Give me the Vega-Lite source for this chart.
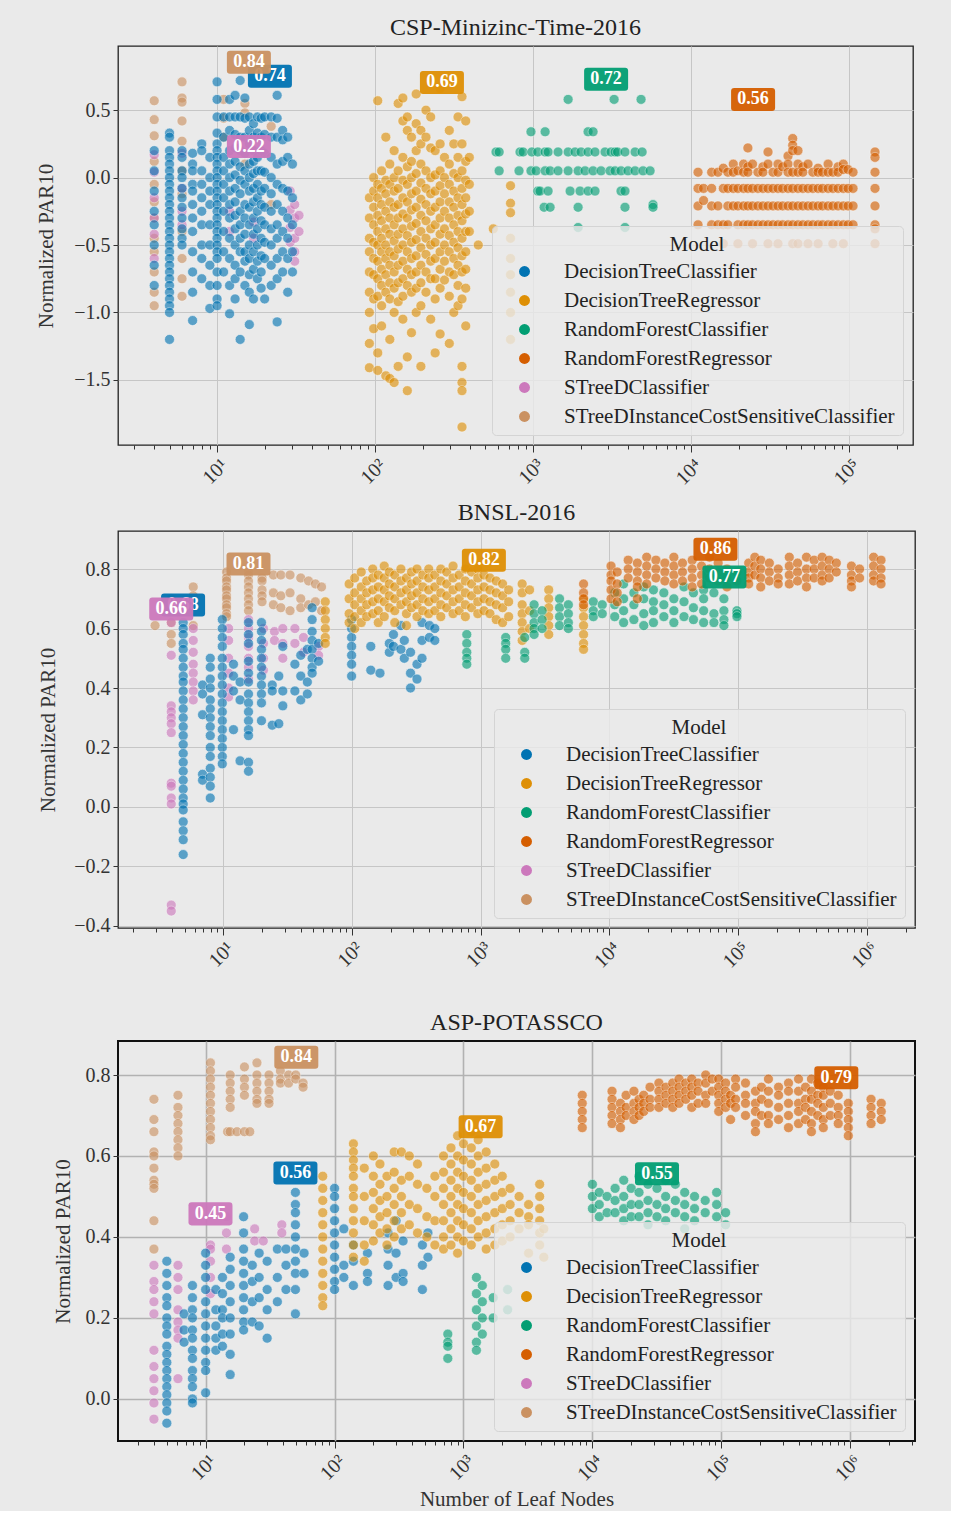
{
"$schema": "https://vega.github.io/schema/vega-lite/v6.json",
"background": "#eaeaea",
"padding": {"left": 35, "top": 15, "right": 24, "bottom": 0},
"spacing": 11,
"resolve": {"scale": {"color": "independent", "fill": "independent"}, "legend": {"color": "independent", "fill": "independent"}},
"config": {
 "font": "Liberation Serif",
 "view": {"fill": "#eaeaea", "stroke": "#222", "strokeWidth": 1.3},
 "title": {"fontSize": 24, "fontWeight": "normal", "color": "#222", "offset": 6, "font": "Liberation Serif"},
 "axis": {"labelFont": "Liberation Serif", "labelFontSize": 20, "labelColor": "#333", "titleFont": "Liberation Serif", "titleFontSize": 21, "titleFontWeight": "normal", "titleColor": "#333", "domain": false, "tickColor": "#333", "gridColor": "#c6c6c6", "gridWidth": 1},
 "axisY": {"tickSize": 5, "labelPadding": 3},
 "axisX": {"labelAngle": -45, "labelAlign": "right", "labelBaseline": "top", "labelOverlap": false, "labelPadding": 3},
 "legend": {"orient": "bottom-right", "offset": 10, "titleFont": "Liberation Serif", "titleFontSize": 21, "titleFontWeight": "normal", "titleColor": "#222", "titleAnchor": "middle", "titlePadding": 6, "labelFont": "Liberation Serif", "labelFontSize": 21, "labelColor": "#222", "labelLimit": 600, "symbolType": "circle", "symbolSize": 120, "symbolStrokeWidth": 0, "symbolOpacity": 1, "symbolOffset": 14, "labelOffset": 29, "rowPadding": 7, "padding": 8, "fillColor": "rgba(234,234,234,0.8)", "strokeColor": "#d4d4d4", "cornerRadius": 4}
},
"datasets": {
 "p1": [
  {"m":"f","x":4,"y":[0.57,0.43,0.31,0.12,-0.05,-0.18,-0.3,-0.45,-0.55,-0.7,-0.85,-0.95]},
  {"m":"f","x":6,"y":[0.71,0.59,0.56,0.42,0.27,0.05,-0.12,-0.4,-0.6,-0.75,-0.88]},
  {"m":"f","x":11,"y":[0.58,0.44,0.3]},
  {"m":"f","x":15,"y":[0.55,0.48,0.1]},
  {"m":"f","x":22,"y":[0.38,-0.2]},
  {"m":"e","x":4,"y":[0.17,0.04,-0.15,-0.3,-0.42,-0.6]},
  {"m":"e","x":6,"y":[0.18,-0.08,-0.25,-0.35]},
  {"m":"e","x":12,"y":[-0.25,-0.4]},
  {"m":"e","x":17,"y":[-0.33,-0.45]},
  {"m":"e","x":29,"y":[-0.1,-0.24,-0.37,-0.48]},
  {"m":"e","x":31,"y":[-0.2,-0.3,-0.45,-0.55,-0.62]},
  {"m":"e","x":33,"y":[-0.28,-0.4]},
  {"m":"a","x":4,"y":[0.2,0.05,-0.1,-0.25,-0.35,-0.5,-0.65,-0.8]},
  {"m":"a","x":5,"y":[0.33,0.3,0.2,0.15,0.1,0.05,0.0,-0.05,-0.1,-0.15,-0.2,-0.25,-0.3,-0.35,-0.4,-0.45,-0.5,-0.55,-0.6,-0.65,-0.7,-0.75,-0.8,-0.85,-0.9,-0.95,-1.0,-1.2]},
  {"m":"a","x":6,"y":[0.2,0.15,0.05,0.0,-0.08,-0.15,-0.22,-0.3,-0.38,-0.45,-0.5]},
  {"m":"a","x":7,"y":[0.18,0.1,0.05,-0.05,-0.1,-0.2,-0.3,-0.4,-0.55,-0.7,-0.85,-1.06]},
  {"m":"a","x":8,"y":[0.25,0.2,0.05,-0.05,-0.15,-0.25,-0.35,-0.5,-0.6,-0.75]},
  {"m":"a","x":9,"y":[0.15,0.0,-0.1,-0.2,-0.35,-0.5,-0.65,-0.8,-0.97]},
  {"m":"a","x":10,"y":[0.71,0.58,0.45,0.33,0.25,0.2,0.15,0.1,0.05,0.0,-0.05,-0.1,-0.15,-0.2,-0.25,-0.3,-0.35,-0.4,-0.45,-0.5,-0.55,-0.6,-0.7,-0.8,-0.9,-0.95]},
  {"m":"a","x":11,"y":[0.45,0.3,0.15,0.05,-0.05,-0.15,-0.25,-0.4,-0.55,-0.7]},
  {"m":"a","x":12,"y":[0.58,0.45,0.35,0.2,0.1,0.0,-0.1,-0.2,-0.3,-0.45,-0.6,-0.8,-1.01]},
  {"m":"a","x":13,"y":[0.61,0.45,0.32,0.22,0.12,0.02,-0.08,-0.18,-0.28,-0.38,-0.5,-0.65,-0.75,-0.9]},
  {"m":"a","x":14,"y":[0.72,0.45,0.3,0.2,0.08,-0.02,-0.12,-0.25,-0.35,-0.45,-0.55,-0.7,-1.2]},
  {"m":"a","x":15,"y":[0.59,0.44,0.3,0.18,0.05,-0.05,-0.2,-0.3,-0.42,-0.55,-0.62,-0.8]},
  {"m":"a","x":16,"y":[0.45,0.35,0.25,0.1,0.0,-0.1,-0.22,-0.35,-0.5,-0.6,-0.72,-0.85,-1.09]},
  {"m":"a","x":17,"y":[0.4,0.3,0.2,0.12,0.03,-0.08,-0.18,-0.3,-0.42,-0.55,-0.68,-0.9]},
  {"m":"a","x":18,"y":[0.45,0.33,0.15,0.05,-0.05,-0.15,-0.25,-0.38,-0.5,-0.62,-0.75]},
  {"m":"a","x":19,"y":[0.44,0.3,0.2,0.05,-0.1,-0.2,-0.32,-0.45,-0.58,-0.7,-0.82]},
  {"m":"a","x":20,"y":[0.45,0.32,0.18,0.04,-0.08,-0.22,-0.35,-0.48,-0.6,-0.9]},
  {"m":"a","x":22,"y":[0.45,0.3,0.15,0.0,-0.12,-0.25,-0.38,-0.5,-0.65,-0.8]},
  {"m":"a","x":24,"y":[0.61,0.44,0.3,0.1,-0.05,-0.2,-0.35,-0.45,-0.6,-0.75,-1.07]},
  {"m":"a","x":26,"y":[0.35,0.28,0.12,-0.08,-0.25,-0.4,-0.55,-0.7]},
  {"m":"a","x":28,"y":[0.3,0.15,-0.1,-0.3,-0.45,-0.6,-0.85]},
  {"m":"a","x":30,"y":[0.1,-0.15,-0.35,-0.55,-0.7]},
  {"m":"b","x":92,"y":[-0.15,-0.3,-0.45,-0.55,-0.7,-0.85,-1.0,-1.23,-1.41]},
  {"m":"b","x":98,"y":[0.0,-0.1,-0.22,-0.35,-0.48,-0.6,-0.72,-0.9,-1.12]},
  {"m":"b","x":104,"y":[0.57,-0.05,-0.15,-0.28,-0.4,-0.5,-0.62,-0.75,-0.88,-1.3,-1.43]},
  {"m":"b","x":110,"y":[0.05,-0.08,-0.2,-0.32,-0.45,-0.55,-0.68,-0.8,-0.95,-1.1]},
  {"m":"b","x":117,"y":[0.3,-0.02,-0.12,-0.25,-0.38,-0.5,-0.6,-0.72,-0.85,-1.47]},
  {"m":"b","x":124,"y":[0.1,-0.05,-0.18,-0.3,-0.42,-0.55,-0.65,-0.78,-0.9,-1.2,-1.49]},
  {"m":"b","x":132,"y":[0.2,0.0,-0.1,-0.22,-0.35,-0.47,-0.58,-0.7,-0.82,-1.0,-1.52]},
  {"m":"b","x":140,"y":[0.55,0.05,-0.08,-0.2,-0.3,-0.42,-0.53,-0.65,-0.78,-0.92,-1.4]},
  {"m":"b","x":150,"y":[0.59,0.42,0.15,-0.02,-0.15,-0.27,-0.38,-0.5,-0.62,-0.75,-0.88,-1.05]},
  {"m":"b","x":160,"y":[0.45,0.35,0.08,-0.05,-0.18,-0.3,-0.43,-0.55,-0.68,-0.8,-1.33,-1.58]},
  {"m":"b","x":170,"y":[0.3,0.12,0.0,-0.12,-0.24,-0.36,-0.48,-0.6,-0.72,-0.85,-1.15]},
  {"m":"b","x":182,"y":[0.62,0.4,0.2,0.03,-0.1,-0.22,-0.34,-0.46,-0.58,-0.7,-0.82,-1.0]},
  {"m":"b","x":195,"y":[0.35,0.25,0.1,-0.04,-0.16,-0.28,-0.4,-0.52,-0.65,-0.78,-0.95,-1.4]},
  {"m":"b","x":210,"y":[0.5,0.3,0.05,-0.08,-0.2,-0.32,-0.45,-0.57,-0.7,-0.85]},
  {"m":"b","x":225,"y":[0.45,0.22,0.0,-0.12,-0.25,-0.38,-0.5,-0.62,-0.75,-1.05]},
  {"m":"b","x":240,"y":[0.2,0.02,-0.1,-0.22,-0.35,-0.48,-0.6,-0.75,-0.9,-1.3]},
  {"m":"b","x":258,"y":[0.66,0.25,0.05,-0.06,-0.18,-0.3,-0.42,-0.55,-0.68,-0.82,-1.16]},
  {"m":"b","x":275,"y":[0.15,0.0,-0.12,-0.25,-0.38,-0.5,-0.62,-0.76]},
  {"m":"b","x":295,"y":[0.35,0.1,-0.05,-0.18,-0.3,-0.43,-0.55,-0.7,-0.88,-1.23]},
  {"m":"b","x":315,"y":[0.25,0.03,-0.1,-0.22,-0.35,-0.48,-0.6,-0.72,-1.0]},
  {"m":"b","x":335,"y":[0.45,0.15,0.0,-0.15,-0.28,-0.4,-0.52,-0.65,-0.8,-0.95]},
  {"m":"b","x":355,"y":[0.6,0.25,0.05,-0.08,-0.2,-0.32,-0.45,-0.58,-0.7,-0.9,-1.4,-1.52,-1.58,-1.85]},
  {"m":"b","x":375,"y":[0.42,0.12,-0.02,-0.15,-0.27,-0.4,-0.55,-0.68,-0.82,-1.1]},
  {"m":"b","x":395,"y":[0.15,-0.05,-0.25,-0.4]},
  {"m":"b","x":450,"y":[-0.5]},
  {"m":"b","x":560,"y":[-0.38]},
  {"m":"b","x":720,"y":[-0.06,-0.19,-0.26,-0.45,-0.6,-0.72,-0.85,-1.0,-1.2]},
  {"m":"c","x":583,"y":[0.19]},
  {"m":"c","x":610,"y":[0.19,0.05]},
  {"m":"c","x":815,"y":[0.05]},
  {"m":"c","x":827,"y":[0.19]},
  {"m":"c","x":865,"y":[0.19]},
  {"m":"c","x":970,"y":[0.34,0.05]},
  {"m":"c","x":983,"y":[0.19]},
  {"m":"c","x":1045,"y":[0.05]},
  {"m":"c","x":1072,"y":[0.19,-0.1]},
  {"m":"c","x":1107,"y":[-0.1]},
  {"m":"c","x":1175,"y":[-0.22]},
  {"m":"c","x":1192,"y":[0.34,0.19,0.05]},
  {"m":"c","x":1245,"y":[0.19,-0.1]},
  {"m":"c","x":1282,"y":[0.05,-0.22]},
  {"m":"c","x":1440,"y":[0.19,0.05]},
  {"m":"c","x":1667,"y":[0.58,0.19,0.05]},
  {"m":"c","x":1716,"y":[-0.1]},
  {"m":"c","x":1845,"y":[0.19]},
  {"m":"c","x":1928,"y":[0.05,-0.22,-0.37]},
  {"m":"c","x":1983,"y":[-0.1]},
  {"m":"c","x":2012,"y":[0.19]},
  {"m":"c","x":2134,"y":[0.05]},
  {"m":"c","x":2229,"y":[0.34,0.19,-0.1]},
  {"m":"c","x":2398,"y":[0.34,0.05]},
  {"m":"c","x":2467,"y":[0.19,-0.1]},
  {"m":"c","x":2693,"y":[0.05]},
  {"m":"c","x":2855,"y":[0.19]},
  {"m":"c","x":3070,"y":[0.05]},
  {"m":"c","x":3117,"y":[0.19]},
  {"m":"c","x":3258,"y":[0.58]},
  {"m":"c","x":3305,"y":[0.19,0.05]},
  {"m":"c","x":3426,"y":[0.19]},
  {"m":"c","x":3603,"y":[0.05,-0.1]},
  {"m":"c","x":3818,"y":[0.19,-0.1,-0.22,-0.37]},
  {"m":"c","x":3990,"y":[0.05]},
  {"m":"c","x":4422,"y":[0.19,0.05]},
  {"m":"c","x":4826,"y":[0.58]},
  {"m":"c","x":4900,"y":[0.19]},
  {"m":"c","x":4966,"y":[0.05]},
  {"m":"c","x":5505,"y":[0.05]},
  {"m":"c","x":5745,"y":[-0.2,-0.22]},
  {"m":"d","x":11070,"y":[0.04,-0.08,-0.21,-0.35]},
  {"m":"d","x":12000,"y":[-0.08,-0.17]},
  {"m":"d","x":13500,"y":[0.04,-0.08,-0.21,-0.35]},
  {"m":"d","x":14800,"y":[0.04,-0.21,-0.35]},
  {"m":"d","x":16000,"y":[0.07,-0.08,-0.35,-0.49]},
  {"m":"d","x":17100,"y":[0.04,-0.08,-0.21,-0.35]},
  {"m":"d","x":18500,"y":[0.1,0.04,-0.08,-0.21]},
  {"m":"d","x":19800,"y":[0.05,-0.08,-0.21,-0.35,-0.49]},
  {"m":"d","x":21500,"y":[0.1,0.04,-0.08,-0.21,-0.35]},
  {"m":"d","x":22900,"y":[0.22,0.08,0.04,-0.08,-0.21,-0.35]},
  {"m":"d","x":24500,"y":[0.1,-0.08,-0.21,-0.35,-0.49]},
  {"m":"d","x":26500,"y":[0.04,-0.08,-0.21,-0.35]},
  {"m":"d","x":28500,"y":[0.08,0.04,-0.08,-0.21,-0.35]},
  {"m":"d","x":30700,"y":[0.19,0.1,-0.08,-0.21,-0.35,-0.49]},
  {"m":"d","x":33000,"y":[0.04,-0.08,-0.21,-0.35]},
  {"m":"d","x":35500,"y":[0.1,0.04,-0.08,-0.21,-0.35,-0.49]},
  {"m":"d","x":38000,"y":[0.08,-0.08,-0.21,-0.35]},
  {"m":"d","x":41100,"y":[0.16,0.1,0.04,-0.08,-0.21,-0.35]},
  {"m":"d","x":44000,"y":[0.29,0.24,0.2,0.04,-0.08,-0.21,-0.35,-0.49]},
  {"m":"d","x":47500,"y":[0.2,0.1,0.04,-0.08,-0.21,-0.35,-0.49]},
  {"m":"d","x":51000,"y":[0.08,0.04,-0.08,-0.21,-0.35]},
  {"m":"d","x":55000,"y":[0.1,-0.08,-0.21,-0.35,-0.49]},
  {"m":"d","x":59000,"y":[0.04,-0.08,-0.21,-0.35]},
  {"m":"d","x":63700,"y":[0.07,0.04,-0.08,-0.21,-0.35,-0.49]},
  {"m":"d","x":68000,"y":[0.04,-0.08,-0.21,-0.35]},
  {"m":"d","x":73700,"y":[0.1,0.04,-0.08,-0.21,-0.35]},
  {"m":"d","x":79000,"y":[0.04,-0.08,-0.21,-0.35,-0.49]},
  {"m":"d","x":85200,"y":[0.08,0.04,-0.08,-0.21,-0.35]},
  {"m":"d","x":92000,"y":[0.1,0.06,-0.08,-0.21,-0.35,-0.49]},
  {"m":"d","x":98600,"y":[0.06,-0.08,-0.21,-0.35]},
  {"m":"d","x":106000,"y":[0.04,-0.08,-0.21,-0.35]},
  {"m":"d","x":146000,"y":[0.19,0.15,0.04,-0.08,-0.21,-0.35,-0.38,-0.49]}
 ],
 "l1": [
  {"m":"a","x":21.6,"y":0.751,"t":"0.74"},
  {"m":"f","x":15.9,"y":0.855,"t":"0.84"},
  {"m":"e","x":15.9,"y":0.23,"t":"0.22"},
  {"m":"b","x":265,"y":0.706,"t":"0.69"},
  {"m":"c","x":2900,"y":0.729,"t":"0.72"},
  {"m":"d","x":24700,"y":0.58,"t":"0.56"}
 ],
 "p2": [
  {"m":"f","x":2.95,"y":[0.61]},
  {"m":"f","x":3.94,"y":[0.7,0.66,0.62,0.58,0.55]},
  {"m":"f","x":5.84,"y":[0.74,0.71,0.68,0.61]},
  {"m":"f","x":10.6,"y":[0.79,0.77,0.76,0.74,0.73,0.71,0.7,0.68,0.67,0.65,0.64]},
  {"m":"f","x":15.7,"y":[0.79,0.78,0.76,0.74,0.72,0.7,0.68,0.66]},
  {"m":"f","x":20,"y":[0.77,0.76,0.73,0.71,0.69]},
  {"m":"f","x":24.5,"y":[0.78,0.72,0.68]},
  {"m":"f","x":28,"y":[0.78,0.71,0.67]},
  {"m":"f","x":33,"y":[0.78,0.72,0.66]},
  {"m":"f","x":40,"y":[0.77,0.7,0.67]},
  {"m":"f","x":46,"y":[0.76,0.68]},
  {"m":"f","x":52,"y":[0.75,0.69]},
  {"m":"f","x":58,"y":[0.74,0.66]},
  {"m":"e","x":3.94,"y":[0.62,0.51,0.34,0.32,0.3,0.28,0.25,0.08,0.07,0.03,0.01,-0.33,-0.35]},
  {"m":"e","x":5.84,"y":[0.6,0.56,0.52,0.48,0.45,0.42,0.39,0.36]},
  {"m":"e","x":11,"y":[0.6,0.56,0.5,0.45,0.4,0.37]},
  {"m":"e","x":15.7,"y":[0.63,0.6,0.57,0.54,0.5,0.47,0.43]},
  {"m":"e","x":20.5,"y":[0.6,0.55,0.5,0.46]},
  {"m":"e","x":25,"y":[0.59,0.56]},
  {"m":"e","x":29,"y":[0.6,0.55,0.5]},
  {"m":"e","x":36,"y":[0.6,0.55]},
  {"m":"e","x":42,"y":[0.57,0.52]},
  {"m":"e","x":55,"y":[0.54,0.51]},
  {"m":"a","x":4.88,"y":[0.62,0.6,0.58,0.55,0.53,0.5,0.47,0.44,0.42,0.39,0.36,0.33,0.3,0.27,0.24,0.21,0.18,0.15,0.12,0.09,0.06,0.03,0.01,-0.01,-0.05,-0.08,-0.11,-0.16]},
  {"m":"a","x":6.9,"y":[0.41,0.38,0.31,0.11,0.09]},
  {"m":"a","x":7.92,"y":[0.5,0.47,0.43,0.4,0.36,0.33,0.3,0.27,0.24,0.2,0.17,0.13,0.1,0.07,0.03]},
  {"m":"a","x":9.82,"y":[0.63,0.6,0.57,0.54,0.5,0.47,0.44,0.41,0.38,0.35,0.32,0.29,0.26,0.23,0.2,0.17,0.145]},
  {"m":"a","x":12,"y":[0.48,0.44,0.39,0.26]},
  {"m":"a","x":13.5,"y":[0.42,0.36,0.155]},
  {"m":"a","x":15.7,"y":[0.62,0.58,0.55,0.49,0.45,0.42,0.38,0.35,0.32,0.29,0.26,0.24,0.15,0.12]},
  {"m":"a","x":19.8,"y":[0.62,0.59,0.56,0.53,0.5,0.47,0.44,0.41,0.38,0.35,0.29]},
  {"m":"a","x":24,"y":[0.41,0.39,0.275]},
  {"m":"a","x":27,"y":[0.44,0.28]},
  {"m":"a","x":29,"y":[0.54,0.39,0.34]},
  {"m":"a","x":36,"y":[0.39,0.48]},
  {"m":"a","x":40,"y":[0.36,0.51,0.44]},
  {"m":"a","x":45,"y":[0.53,0.38,0.42]},
  {"m":"a","x":49,"y":[0.67,0.63,0.59,0.56,0.53,0.5,0.47,0.45]},
  {"m":"a","x":55,"y":[0.49,0.55]},
  {"m":"a","x":99.3,"y":[0.63,0.6,0.57,0.54,0.51,0.48,0.44]},
  {"m":"a","x":140,"y":[0.46,0.54]},
  {"m":"a","x":165,"y":[0.45]},
  {"m":"a","x":195,"y":[0.52,0.55]},
  {"m":"a","x":210,"y":[0.54,0.58]},
  {"m":"a","x":240,"y":[0.61,0.53]},
  {"m":"a","x":255,"y":[0.5,0.56]},
  {"m":"a","x":285,"y":[0.45,0.4,0.52]},
  {"m":"a","x":320,"y":[0.48,0.43]},
  {"m":"a","x":350,"y":[0.56,0.5,0.62]},
  {"m":"a","x":400,"y":[0.61,0.57]},
  {"m":"a","x":440,"y":[0.56,0.6]},
  {"m":"b","x":62,"y":[0.69,0.66,0.63,0.6,0.57,0.55]},
  {"m":"b","x":95,"y":[0.75,0.7,0.65,0.62]},
  {"m":"b","x":105,"y":[0.77,0.72,0.68,0.64,0.6]},
  {"m":"b","x":118,"y":[0.79,0.74,0.7,0.66,0.62]},
  {"m":"b","x":130,"y":[0.76,0.72,0.68,0.64]},
  {"m":"b","x":145,"y":[0.8,0.77,0.73,0.69,0.65]},
  {"m":"b","x":160,"y":[0.78,0.74,0.7,0.66,0.62]},
  {"m":"b","x":178,"y":[0.81,0.77,0.73,0.69,0.64]},
  {"m":"b","x":195,"y":[0.79,0.75,0.71,0.67]},
  {"m":"b","x":215,"y":[0.78,0.74,0.7,0.66,0.62]},
  {"m":"b","x":240,"y":[0.8,0.76,0.72,0.68]},
  {"m":"b","x":265,"y":[0.77,0.73,0.69,0.65,0.61]},
  {"m":"b","x":290,"y":[0.79,0.75,0.71,0.67]},
  {"m":"b","x":320,"y":[0.8,0.76,0.72,0.68,0.64]},
  {"m":"b","x":355,"y":[0.78,0.74,0.7,0.66]},
  {"m":"b","x":395,"y":[0.8,0.77,0.73,0.69,0.65]},
  {"m":"b","x":440,"y":[0.78,0.74,0.7,0.66]},
  {"m":"b","x":490,"y":[0.8,0.76,0.72,0.68,0.64]},
  {"m":"b","x":545,"y":[0.79,0.75,0.71,0.67]},
  {"m":"b","x":610,"y":[0.81,0.77,0.73,0.69,0.65]},
  {"m":"b","x":680,"y":[0.78,0.74,0.7,0.66]},
  {"m":"b","x":760,"y":[0.8,0.76,0.72,0.68,0.64]},
  {"m":"b","x":850,"y":[0.79,0.75,0.71,0.67]},
  {"m":"b","x":950,"y":[0.8,0.77,0.73,0.69,0.65]},
  {"m":"b","x":1060,"y":[0.78,0.74,0.7,0.66]},
  {"m":"b","x":1180,"y":[0.77,0.73,0.69,0.65]},
  {"m":"b","x":1320,"y":[0.76,0.72,0.68,0.63]},
  {"m":"b","x":1480,"y":[0.75,0.71,0.67,0.62]},
  {"m":"b","x":1650,"y":[0.73,0.69,0.64]},
  {"m":"b","x":2100,"y":[0.75,0.72,0.68,0.65,0.62,0.59,0.56]},
  {"m":"b","x":2400,"y":[0.73,0.66,0.6]},
  {"m":"b","x":3380,"y":[0.73,0.7,0.67,0.64,0.61,0.58]},
  {"m":"b","x":6300,"y":[0.7,0.67,0.64,0.61,0.58,0.55,0.53]},
  {"m":"c","x":780,"y":[0.58,0.55,0.52,0.5,0.48]},
  {"m":"c","x":1565,"y":[0.57,0.55,0.53,0.5]},
  {"m":"c","x":2200,"y":[0.57,0.52,0.5]},
  {"m":"c","x":2600,"y":[0.68,0.65,0.62,0.6,0.58]},
  {"m":"c","x":3000,"y":[0.66,0.63,0.6]},
  {"m":"c","x":4100,"y":[0.7,0.67,0.64,0.61]},
  {"m":"c","x":4800,"y":[0.68,0.65,0.62,0.6]},
  {"m":"c","x":7500,"y":[0.69,0.66,0.64]},
  {"m":"c","x":8800,"y":[0.68,0.65]},
  {"m":"c","x":11000,"y":[0.72,0.68,0.64]},
  {"m":"c","x":12900,"y":[0.75,0.7,0.66,0.62]},
  {"m":"c","x":15500,"y":[0.72,0.68,0.63]},
  {"m":"c","x":18500,"y":[0.74,0.7,0.65,0.61]},
  {"m":"c","x":22000,"y":[0.73,0.69,0.66,0.62]},
  {"m":"c","x":26500,"y":[0.72,0.68,0.64]},
  {"m":"c","x":31700,"y":[0.7,0.66,0.62]},
  {"m":"c","x":38000,"y":[0.74,0.69,0.64]},
  {"m":"c","x":45000,"y":[0.72,0.67,0.63]},
  {"m":"c","x":54000,"y":[0.73,0.7,0.66,0.62]},
  {"m":"c","x":64900,"y":[0.72,0.65,0.62]},
  {"m":"c","x":77600,"y":[0.77,0.7,0.66,0.63,0.61]},
  {"m":"c","x":98000,"y":[0.66,0.65,0.64]},
  {"m":"d","x":6300,"y":[0.75,0.72,0.7,0.68]},
  {"m":"d","x":10300,"y":[0.81,0.78,0.76,0.73,0.7]},
  {"m":"d","x":11500,"y":[0.79,0.75,0.72,0.69]},
  {"m":"d","x":14000,"y":[0.83,0.8,0.77]},
  {"m":"d","x":16500,"y":[0.82,0.79,0.76,0.74,0.7]},
  {"m":"d","x":19500,"y":[0.84,0.81,0.78,0.75]},
  {"m":"d","x":23000,"y":[0.83,0.8,0.77]},
  {"m":"d","x":27000,"y":[0.82,0.79,0.76]},
  {"m":"d","x":31700,"y":[0.84,0.81,0.78,0.75]},
  {"m":"d","x":37000,"y":[0.82,0.79,0.76]},
  {"m":"d","x":44000,"y":[0.83,0.8,0.77,0.74]},
  {"m":"d","x":52000,"y":[0.81,0.78,0.75]},
  {"m":"d","x":60000,"y":[0.84,0.8,0.77]},
  {"m":"d","x":70000,"y":[0.82,0.79,0.76]},
  {"m":"d","x":82000,"y":[0.8,0.77,0.74]},
  {"m":"d","x":98000,"y":[0.79,0.76]},
  {"m":"d","x":121000,"y":[0.82,0.79,0.77,0.75]},
  {"m":"d","x":135000,"y":[0.84,0.81,0.78]},
  {"m":"d","x":150000,"y":[0.83,0.8,0.77,0.74]},
  {"m":"d","x":175000,"y":[0.82,0.79,0.76]},
  {"m":"d","x":205000,"y":[0.8,0.77,0.75]},
  {"m":"d","x":250000,"y":[0.84,0.81,0.78,0.75]},
  {"m":"d","x":290000,"y":[0.82,0.79,0.76]},
  {"m":"d","x":340000,"y":[0.84,0.8,0.77,0.74]},
  {"m":"d","x":390000,"y":[0.83,0.8,0.77]},
  {"m":"d","x":450000,"y":[0.84,0.81,0.78,0.76]},
  {"m":"d","x":510000,"y":[0.83,0.8,0.77]},
  {"m":"d","x":580000,"y":[0.82,0.79]},
  {"m":"d","x":760000,"y":[0.81,0.78,0.76,0.74]},
  {"m":"d","x":880000,"y":[0.8,0.77]},
  {"m":"d","x":1130000,"y":[0.84,0.81,0.78,0.76]},
  {"m":"d","x":1290000,"y":[0.83,0.8,0.77,0.75]}
 ],
 "l2": [
  {"m":"a","x":4.87,"y":0.679,"t":"0.68"},
  {"m":"e","x":3.94,"y":0.666,"t":"0.66"},
  {"m":"f","x":15.7,"y":0.817,"t":"0.81"},
  {"m":"b","x":1059,"y":0.83,"t":"0.82"},
  {"m":"d","x":66700,"y":0.867,"t":"0.86"},
  {"m":"c","x":78300,"y":0.773,"t":"0.77"}
 ],
 "p3": [
  {"m":"f","x":3.97,"y":[0.74,0.69,0.66,0.61,0.6,0.57,0.54,0.53,0.52,0.44,0.37]},
  {"m":"f","x":6.1,"y":[0.75,0.72,0.7,0.68,0.66,0.64,0.62,0.6]},
  {"m":"f","x":10.9,"y":[0.83,0.81,0.79,0.77,0.75,0.73,0.71,0.69,0.67,0.65,0.64]},
  {"m":"f","x":14.8,"y":[0.66]},
  {"m":"f","x":15.5,"y":[0.8,0.78,0.76,0.74,0.72,0.66]},
  {"m":"f","x":17.5,"y":[0.66]},
  {"m":"f","x":20,"y":[0.82,0.79,0.77,0.75,0.66]},
  {"m":"f","x":22,"y":[0.66]},
  {"m":"f","x":25,"y":[0.83,0.8,0.78,0.76,0.74,0.73]},
  {"m":"f","x":31,"y":[0.8,0.78,0.76,0.74,0.73]},
  {"m":"f","x":38,"y":[0.81,0.79,0.78]},
  {"m":"f","x":44,"y":[0.8,0.78]},
  {"m":"f","x":50,"y":[0.8,0.79]},
  {"m":"f","x":57,"y":[0.78,0.77]},
  {"m":"e","x":3.97,"y":[0.33,0.29,0.27,0.24,0.21,0.12,0.08,0.05,0.02,-0.01,-0.05]},
  {"m":"e","x":6.1,"y":[0.33,0.3,0.27,0.22,0.19,0.17,0.15,0.05]},
  {"m":"e","x":10.9,"y":[0.38,0.37,0.34,0.3,0.26]},
  {"m":"e","x":14.5,"y":[0.45,0.41,0.37]},
  {"m":"e","x":24,"y":[0.42,0.39]},
  {"m":"e","x":28,"y":[0.39]},
  {"m":"e","x":39,"y":[0.43,0.41]},
  {"m":"a","x":5,"y":[0.34,0.31,0.28,0.25,0.23,0.2,0.18,0.16,0.13,0.11,0.09,0.07,0.05,0.03,0.01,-0.01,-0.03,-0.06]},
  {"m":"a","x":6.8,"y":[0.21,0.17,0.14]},
  {"m":"a","x":7.9,"y":[0.28,0.25,0.22,0.2,0.17,0.15,0.12,0.1,0.07,0.05,0.03,0.0,-0.01]},
  {"m":"a","x":10,"y":[0.36,0.33,0.3,0.27,0.24,0.21,0.18,0.15,0.12,0.09,0.07,0.015]},
  {"m":"a","x":12,"y":[0.27,0.22,0.18,0.15,0.12]},
  {"m":"a","x":13.5,"y":[0.3,0.26,0.22,0.2,0.16,0.13]},
  {"m":"a","x":15.5,"y":[0.35,0.32,0.28,0.24,0.2,0.16,0.11,0.06]},
  {"m":"a","x":19.7,"y":[0.45,0.41,0.37,0.34,0.31,0.28,0.25,0.22,0.19,0.17]},
  {"m":"a","x":23,"y":[0.33,0.29,0.24,0.19]},
  {"m":"a","x":26,"y":[0.36,0.3,0.25,0.18]},
  {"m":"a","x":30,"y":[0.34,0.27,0.22,0.15]},
  {"m":"a","x":36,"y":[0.37,0.3,0.24]},
  {"m":"a","x":42,"y":[0.37,0.33,0.27]},
  {"m":"a","x":49.7,"y":[0.51,0.48,0.46,0.43,0.4,0.37,0.34,0.31,0.27,0.21]},
  {"m":"a","x":58,"y":[0.36,0.31]},
  {"m":"a","x":100,"y":[0.52,0.5,0.47,0.44,0.41,0.38,0.35,0.32,0.29,0.27]},
  {"m":"a","x":118,"y":[0.42,0.33,0.3]},
  {"m":"a","x":140,"y":[0.38,0.34,0.28]},
  {"m":"a","x":180,"y":[0.36,0.31,0.29]},
  {"m":"a","x":260,"y":[0.41,0.37,0.33,0.28]},
  {"m":"a","x":300,"y":[0.44,0.36,0.3]},
  {"m":"a","x":340,"y":[0.39,0.31,0.29]},
  {"m":"a","x":480,"y":[0.38,0.33,0.27]},
  {"m":"a","x":530,"y":[0.41,0.35]},
  {"m":"b","x":81,"y":[0.55,0.52,0.49,0.46,0.43,0.4,0.37,0.34,0.31,0.28,0.25,0.23]},
  {"m":"b","x":140,"y":[0.63,0.61,0.59,0.57,0.55,0.52,0.5,0.47,0.44,0.41,0.38,0.35]},
  {"m":"b","x":170,"y":[0.57,0.5,0.44,0.38,0.34]},
  {"m":"b","x":200,"y":[0.6,0.55,0.51,0.47,0.43,0.39]},
  {"m":"b","x":225,"y":[0.58,0.53,0.49,0.45,0.41]},
  {"m":"b","x":255,"y":[0.55,0.5,0.46,0.42,0.38]},
  {"m":"b","x":290,"y":[0.61,0.56,0.52,0.48,0.44,0.4]},
  {"m":"b","x":330,"y":[0.61,0.54,0.5,0.46,0.42]},
  {"m":"b","x":380,"y":[0.6,0.55,0.48,0.43]},
  {"m":"b","x":440,"y":[0.58,0.53,0.47,0.41]},
  {"m":"b","x":520,"y":[0.52,0.45,0.4]},
  {"m":"b","x":600,"y":[0.55,0.5,0.44,0.38]},
  {"m":"b","x":700,"y":[0.6,0.56,0.52,0.48,0.44,0.4,0.37]},
  {"m":"b","x":800,"y":[0.62,0.58,0.54,0.5,0.46,0.42,0.38]},
  {"m":"b","x":900,"y":[0.65,0.6,0.56,0.52,0.48,0.44,0.4,0.36]},
  {"m":"b","x":1000,"y":[0.63,0.59,0.55,0.51,0.47,0.43,0.39]},
  {"m":"b","x":1150,"y":[0.66,0.62,0.58,0.54,0.5,0.46,0.42,0.38]},
  {"m":"b","x":1300,"y":[0.64,0.6,0.56,0.52,0.48,0.44,0.4]},
  {"m":"b","x":1500,"y":[0.61,0.57,0.53,0.49,0.45,0.41,0.37]},
  {"m":"b","x":1750,"y":[0.58,0.54,0.5,0.46,0.42,0.38]},
  {"m":"b","x":2000,"y":[0.55,0.51,0.47,0.43,0.39]},
  {"m":"b","x":2300,"y":[0.52,0.48,0.44,0.4]},
  {"m":"b","x":2700,"y":[0.5,0.46,0.42]},
  {"m":"b","x":3200,"y":[0.48,0.45,0.43,0.36]},
  {"m":"b","x":3900,"y":[0.53,0.5,0.47,0.44,0.41,0.38]},
  {"m":"b","x":4200,"y":[0.42,0.35]},
  {"m":"c","x":756,"y":[0.16,0.14,0.13,0.1]},
  {"m":"c","x":1260,"y":[0.3,0.26,0.22,0.18,0.14,0.12]},
  {"m":"c","x":1400,"y":[0.28,0.24,0.2,0.16]},
  {"m":"c","x":1700,"y":[0.25,0.2]},
  {"m":"c","x":2200,"y":[0.27,0.22]},
  {"m":"c","x":10000,"y":[0.53,0.5,0.47]},
  {"m":"c","x":11300,"y":[0.51,0.48,0.45]},
  {"m":"c","x":13000,"y":[0.5,0.46]},
  {"m":"c","x":15000,"y":[0.52,0.49,0.46]},
  {"m":"c","x":17500,"y":[0.54,0.5,0.47,0.44]},
  {"m":"c","x":20000,"y":[0.52,0.48,0.45]},
  {"m":"c","x":23000,"y":[0.55,0.51,0.48,0.45]},
  {"m":"c","x":27000,"y":[0.53,0.49,0.46,0.43]},
  {"m":"c","x":31700,"y":[0.52,0.48,0.45]},
  {"m":"c","x":37000,"y":[0.54,0.5,0.47,0.44]},
  {"m":"c","x":44000,"y":[0.53,0.49,0.46]},
  {"m":"c","x":52000,"y":[0.51,0.48,0.45,0.42]},
  {"m":"c","x":62000,"y":[0.5,0.47,0.44]},
  {"m":"c","x":75000,"y":[0.49,0.46]},
  {"m":"c","x":92000,"y":[0.51,0.48,0.45]},
  {"m":"c","x":108000,"y":[0.46,0.43]},
  {"m":"d","x":8340,"y":[0.75,0.73,0.71,0.69,0.67]},
  {"m":"d","x":14200,"y":[0.76,0.74,0.72,0.7,0.68]},
  {"m":"d","x":16500,"y":[0.73,0.71,0.69,0.67]},
  {"m":"d","x":18250,"y":[0.75,0.72,0.7]},
  {"m":"d","x":21000,"y":[0.76,0.73,0.71,0.69]},
  {"m":"d","x":23000,"y":[0.74,0.72,0.7]},
  {"m":"d","x":25000,"y":[0.75,0.73,0.71]},
  {"m":"d","x":28000,"y":[0.77,0.74,0.72]},
  {"m":"d","x":32800,"y":[0.78,0.76,0.74,0.72]},
  {"m":"d","x":37200,"y":[0.77,0.75,0.73]},
  {"m":"d","x":42000,"y":[0.78,0.76,0.74,0.72]},
  {"m":"d","x":47000,"y":[0.79,0.77,0.75,0.73]},
  {"m":"d","x":53000,"y":[0.78,0.76,0.74]},
  {"m":"d","x":59000,"y":[0.79,0.77,0.75,0.72]},
  {"m":"d","x":66000,"y":[0.78,0.76,0.73]},
  {"m":"d","x":75700,"y":[0.8,0.78,0.75,0.73]},
  {"m":"d","x":85000,"y":[0.79,0.76]},
  {"m":"d","x":95500,"y":[0.79,0.77,0.75,0.73,0.71]},
  {"m":"d","x":108000,"y":[0.78,0.76,0.74,0.72]},
  {"m":"d","x":118000,"y":[0.75,0.73,0.69]},
  {"m":"d","x":129000,"y":[0.79,0.77,0.74,0.72]},
  {"m":"d","x":154000,"y":[0.78,0.75,0.73,0.7]},
  {"m":"d","x":184000,"y":[0.76,0.73,0.71,0.68,0.66]},
  {"m":"d","x":205000,"y":[0.77,0.74,0.7]},
  {"m":"d","x":232000,"y":[0.79,0.76,0.73,0.7,0.68]},
  {"m":"d","x":278000,"y":[0.77,0.75,0.72,0.69]},
  {"m":"d","x":332000,"y":[0.78,0.76,0.73,0.7,0.67]},
  {"m":"d","x":397000,"y":[0.79,0.76,0.73,0.71,0.68]},
  {"m":"d","x":450000,"y":[0.77,0.74,0.72,0.69]},
  {"m":"d","x":500000,"y":[0.79,0.76,0.74,0.71,0.68,0.66]},
  {"m":"d","x":560000,"y":[0.78,0.75,0.73,0.7]},
  {"m":"d","x":618000,"y":[0.77,0.75,0.72,0.69,0.67]},
  {"m":"d","x":700000,"y":[0.76,0.73,0.7]},
  {"m":"d","x":807000,"y":[0.75,0.72,0.7,0.68]},
  {"m":"d","x":966000,"y":[0.73,0.71,0.69,0.67,0.65]},
  {"m":"d","x":1450000,"y":[0.74,0.72,0.7,0.68]},
  {"m":"d","x":1740000,"y":[0.73,0.71,0.69]}
 ],
 "l3": [
  {"m":"a","x":49.7,"y":0.558,"t":"0.56"},
  {"m":"f","x":50.5,"y":0.844,"t":"0.84"},
  {"m":"e","x":10.9,"y":0.457,"t":"0.45"},
  {"m":"b","x":1358,"y":0.672,"t":"0.67"},
  {"m":"c","x":31700,"y":0.556,"t":"0.55"},
  {"m":"d","x":780000,"y":0.793,"t":"0.79"}
 ]
},
"vconcat": [
 {
  "title": "CSP-Minizinc-Time-2016",
  "width": 795, "height": 399,
  "encoding": {
   "x": {"field": "x", "type": "quantitative", "scale": {"type": "log", "domain": [2.36, 254000], "nice": false},
    "axis": {"title": null, "values": [3,4,5,6,7,8,9,10,20,30,40,50,60,70,80,90,100,200,300,400,500,600,700,800,900,1000,2000,3000,4000,5000,6000,7000,8000,9000,10000,20000,30000,40000,50000,60000,70000,80000,90000,100000,200000],
     "labelExpr": "abs(log(datum.value)/LN10-round(log(datum.value)/LN10))<0.001 ? '10'+['⁰','¹','²','³','⁴','⁵','⁶','⁷'][round(log(datum.value)/LN10)] : ''",
     "tickSize": {"condition": {"test": "abs(log(datum.value)/LN10-round(log(datum.value)/LN10))<0.001", "value": 7}, "value": 4},
     "gridOpacity": {"condition": {"test": "abs(log(datum.value)/LN10-round(log(datum.value)/LN10))<0.001", "value": 1}, "value": 0}}},
   "y": {"field": "y", "type": "quantitative", "scale": {"domain": [-1.983, 0.976], "nice": false, "zero": false},
    "axis": {"title": "Normalized PAR10", "values": [-1.5,-1,-0.5,0,0.5], "format": ".1f", "titlePadding": 17}}
  },
  "layer": [
   {"data": {"name": "p1"}, "transform": [{"flatten": ["y"]}],
    "mark": {"type": "circle", "size": 100, "opacity": 0.62, "stroke": "white", "strokeWidth": 0.6},
    "encoding": {"color": {"field": "m", "type": "nominal", "scale": {"domain": ["a","b","c","d","e","f"], "range": ["#0173b2","#de8f05","#029e73","#d55e00","#cc78bc","#ca9161"]},
     "legend": {"title": "Model", "orient": "bottom-right", "labelExpr": "datum.label=='a'?'DecisionTreeClassifier':datum.label=='b'?'DecisionTreeRegressor':datum.label=='c'?'RandomForestClassifier':datum.label=='d'?'RandomForestRegressor':datum.label=='e'?'STreeDClassifier':'STreeDInstanceCostSensitiveClassifier'"}}}},
   {"data": {"name": "l1"}, "transform": [{"filter": "datum.m=='a'"}],
    "mark": {"type": "point", "shape": "M-0.86,-0.523L0.86,-0.523Q1,-0.523 1,-0.386L1,0.386Q1,0.523 0.86,0.523L-0.86,0.523Q-1,0.523 -1,0.386L-1,-0.386Q-1,-0.523 -0.86,-0.523Z", "size": 1936, "filled": true, "opacity": 0.95, "strokeWidth": 0},
    "encoding": {"fill": {"field": "m", "type": "nominal", "scale": {"domain": ["a","b","c","d","e","f"], "range": ["#0173b2","#de8f05","#029e73","#d55e00","#cc78bc","#ca9161"]}, "legend": null}}},
   {"data": {"name": "l1"}, "transform": [{"filter": "datum.m=='a'"}],
    "mark": {"type": "text", "color": "white", "fontSize": 18, "fontWeight": "bold", "font": "Liberation Serif", "align": "center", "baseline": "middle"},
    "encoding": {"text": {"field": "t", "type": "nominal"}}},
   {"data": {"name": "l1"}, "transform": [{"filter": "datum.m!='a'"}],
    "mark": {"type": "point", "shape": "M-0.86,-0.523L0.86,-0.523Q1,-0.523 1,-0.386L1,0.386Q1,0.523 0.86,0.523L-0.86,0.523Q-1,0.523 -1,0.386L-1,-0.386Q-1,-0.523 -0.86,-0.523Z", "size": 1936, "filled": true, "opacity": 0.95, "strokeWidth": 0},
    "encoding": {"fill": {"field": "m", "type": "nominal", "scale": {"domain": ["a","b","c","d","e","f"], "range": ["#0173b2","#de8f05","#029e73","#d55e00","#cc78bc","#ca9161"]}, "legend": null}}},
   {"data": {"name": "l1"}, "transform": [{"filter": "datum.m!='a'"}],
    "mark": {"type": "text", "color": "white", "fontSize": 18, "fontWeight": "bold", "font": "Liberation Serif", "align": "center", "baseline": "middle"},
    "encoding": {"text": {"field": "t", "type": "nominal"}}}
  ]
 },
 {
  "title": "BNSL-2016",
  "width": 797, "height": 397,
  "encoding": {
   "x": {"field": "x", "type": "quantitative", "scale": {"type": "log", "domain": [1.52, 2370000], "nice": false},
    "axis": {"title": " ", "titleFontSize": 20, "titlePadding": 7, "values": [2,3,4,5,6,7,8,9,10,20,30,40,50,60,70,80,90,100,200,300,400,500,600,700,800,900,1000,2000,3000,4000,5000,6000,7000,8000,9000,10000,20000,30000,40000,50000,60000,70000,80000,90000,100000,200000,300000,400000,500000,600000,700000,800000,900000,1000000,2000000],
     "labelExpr": "abs(log(datum.value)/LN10-round(log(datum.value)/LN10))<0.001 ? '10'+['⁰','¹','²','³','⁴','⁵','⁶','⁷'][round(log(datum.value)/LN10)] : ''",
     "tickSize": {"condition": {"test": "abs(log(datum.value)/LN10-round(log(datum.value)/LN10))<0.001", "value": 7}, "value": 4},
     "gridOpacity": {"condition": {"test": "abs(log(datum.value)/LN10-round(log(datum.value)/LN10))<0.001", "value": 1}, "value": 0}}},
   "y": {"field": "y", "type": "quantitative", "scale": {"domain": [-0.407, 0.928], "nice": false, "zero": false},
    "axis": {"title": "Normalized PAR10", "values": [-0.4,-0.2,0,0.2,0.4,0.6,0.8], "format": ".1f", "titlePadding": 15}}
  },
  "layer": [
   {"data": {"name": "p2"}, "transform": [{"flatten": ["y"]}],
    "mark": {"type": "circle", "size": 100, "opacity": 0.62, "stroke": "white", "strokeWidth": 0.6},
    "encoding": {"color": {"field": "m", "type": "nominal", "scale": {"domain": ["a","b","c","d","e","f"], "range": ["#0173b2","#de8f05","#029e73","#d55e00","#cc78bc","#ca9161"]},
     "legend": {"title": "Model", "orient": "bottom-right", "labelExpr": "datum.label=='a'?'DecisionTreeClassifier':datum.label=='b'?'DecisionTreeRegressor':datum.label=='c'?'RandomForestClassifier':datum.label=='d'?'RandomForestRegressor':datum.label=='e'?'STreeDClassifier':'STreeDInstanceCostSensitiveClassifier'"}}}},
   {"data": {"name": "l2"}, "transform": [{"filter": "datum.m=='a'"}],
    "mark": {"type": "point", "shape": "M-0.86,-0.523L0.86,-0.523Q1,-0.523 1,-0.386L1,0.386Q1,0.523 0.86,0.523L-0.86,0.523Q-1,0.523 -1,0.386L-1,-0.386Q-1,-0.523 -0.86,-0.523Z", "size": 1936, "filled": true, "opacity": 0.95, "strokeWidth": 0},
    "encoding": {"fill": {"field": "m", "type": "nominal", "scale": {"domain": ["a","b","c","d","e","f"], "range": ["#0173b2","#de8f05","#029e73","#d55e00","#cc78bc","#ca9161"]}, "legend": null}}},
   {"data": {"name": "l2"}, "transform": [{"filter": "datum.m=='a'"}],
    "mark": {"type": "text", "color": "white", "fontSize": 18, "fontWeight": "bold", "font": "Liberation Serif", "align": "center", "baseline": "middle"},
    "encoding": {"text": {"field": "t", "type": "nominal"}}},
   {"data": {"name": "l2"}, "transform": [{"filter": "datum.m!='a'"}],
    "mark": {"type": "point", "shape": "M-0.86,-0.523L0.86,-0.523Q1,-0.523 1,-0.386L1,0.386Q1,0.523 0.86,0.523L-0.86,0.523Q-1,0.523 -1,0.386L-1,-0.386Q-1,-0.523 -0.86,-0.523Z", "size": 1936, "filled": true, "opacity": 0.95, "strokeWidth": 0},
    "encoding": {"fill": {"field": "m", "type": "nominal", "scale": {"domain": ["a","b","c","d","e","f"], "range": ["#0173b2","#de8f05","#029e73","#d55e00","#cc78bc","#ca9161"]}, "legend": null}}},
   {"data": {"name": "l2"}, "transform": [{"filter": "datum.m!='a'"}],
    "mark": {"type": "text", "color": "white", "fontSize": 18, "fontWeight": "bold", "font": "Liberation Serif", "align": "center", "baseline": "middle"},
    "encoding": {"text": {"field": "t", "type": "nominal"}}}
  ]
 },
 {
  "title": "ASP-POTASSCO",
  "width": 797, "height": 400,
  "view": {"stroke": "#111", "strokeWidth": 2},
  "encoding": {
   "x": {"field": "x", "type": "quantitative", "scale": {"type": "log", "domain": [2.09, 3180000], "nice": false},
    "axis": {"title": "Number of Leaf Nodes", "titlePadding": 4, "gridColor": "#b2b2b2", "gridWidth": 1.6, "values": [3,4,5,6,7,8,9,10,20,30,40,50,60,70,80,90,100,200,300,400,500,600,700,800,900,1000,2000,3000,4000,5000,6000,7000,8000,9000,10000,20000,30000,40000,50000,60000,70000,80000,90000,100000,200000,300000,400000,500000,600000,700000,800000,900000,1000000,2000000,3000000],
     "labelExpr": "abs(log(datum.value)/LN10-round(log(datum.value)/LN10))<0.001 ? '10'+['⁰','¹','²','³','⁴','⁵','⁶','⁷'][round(log(datum.value)/LN10)] : ''",
     "tickSize": {"condition": {"test": "abs(log(datum.value)/LN10-round(log(datum.value)/LN10))<0.001", "value": 7}, "value": 4},
     "gridOpacity": {"condition": {"test": "abs(log(datum.value)/LN10-round(log(datum.value)/LN10))<0.001", "value": 1}, "value": 0}}},
   "y": {"field": "y", "type": "quantitative", "scale": {"domain": [-0.104, 0.884], "nice": false, "zero": false},
    "axis": {"title": "Normalized PAR10", "gridColor": "#b2b2b2", "gridWidth": 1.6, "values": [0,0.2,0.4,0.6,0.8], "format": ".1f", "titlePadding": 12}}
  },
  "layer": [
   {"data": {"name": "p3"}, "transform": [{"flatten": ["y"]}],
    "mark": {"type": "circle", "size": 100, "opacity": 0.62, "stroke": "white", "strokeWidth": 0.6},
    "encoding": {"color": {"field": "m", "type": "nominal", "scale": {"domain": ["a","b","c","d","e","f"], "range": ["#0173b2","#de8f05","#029e73","#d55e00","#cc78bc","#ca9161"]},
     "legend": {"title": "Model", "orient": "bottom-right", "labelExpr": "datum.label=='a'?'DecisionTreeClassifier':datum.label=='b'?'DecisionTreeRegressor':datum.label=='c'?'RandomForestClassifier':datum.label=='d'?'RandomForestRegressor':datum.label=='e'?'STreeDClassifier':'STreeDInstanceCostSensitiveClassifier'"}}}},
   {"data": {"name": "l3"}, "transform": [{"filter": "datum.m=='a'"}],
    "mark": {"type": "point", "shape": "M-0.86,-0.523L0.86,-0.523Q1,-0.523 1,-0.386L1,0.386Q1,0.523 0.86,0.523L-0.86,0.523Q-1,0.523 -1,0.386L-1,-0.386Q-1,-0.523 -0.86,-0.523Z", "size": 1936, "filled": true, "opacity": 0.95, "strokeWidth": 0},
    "encoding": {"fill": {"field": "m", "type": "nominal", "scale": {"domain": ["a","b","c","d","e","f"], "range": ["#0173b2","#de8f05","#029e73","#d55e00","#cc78bc","#ca9161"]}, "legend": null}}},
   {"data": {"name": "l3"}, "transform": [{"filter": "datum.m=='a'"}],
    "mark": {"type": "text", "color": "white", "fontSize": 18, "fontWeight": "bold", "font": "Liberation Serif", "align": "center", "baseline": "middle"},
    "encoding": {"text": {"field": "t", "type": "nominal"}}},
   {"data": {"name": "l3"}, "transform": [{"filter": "datum.m!='a'"}],
    "mark": {"type": "point", "shape": "M-0.86,-0.523L0.86,-0.523Q1,-0.523 1,-0.386L1,0.386Q1,0.523 0.86,0.523L-0.86,0.523Q-1,0.523 -1,0.386L-1,-0.386Q-1,-0.523 -0.86,-0.523Z", "size": 1936, "filled": true, "opacity": 0.95, "strokeWidth": 0},
    "encoding": {"fill": {"field": "m", "type": "nominal", "scale": {"domain": ["a","b","c","d","e","f"], "range": ["#0173b2","#de8f05","#029e73","#d55e00","#cc78bc","#ca9161"]}, "legend": null}}},
   {"data": {"name": "l3"}, "transform": [{"filter": "datum.m!='a'"}],
    "mark": {"type": "text", "color": "white", "fontSize": 18, "fontWeight": "bold", "font": "Liberation Serif", "align": "center", "baseline": "middle"},
    "encoding": {"text": {"field": "t", "type": "nominal"}}}
  ]
 }
]
}
